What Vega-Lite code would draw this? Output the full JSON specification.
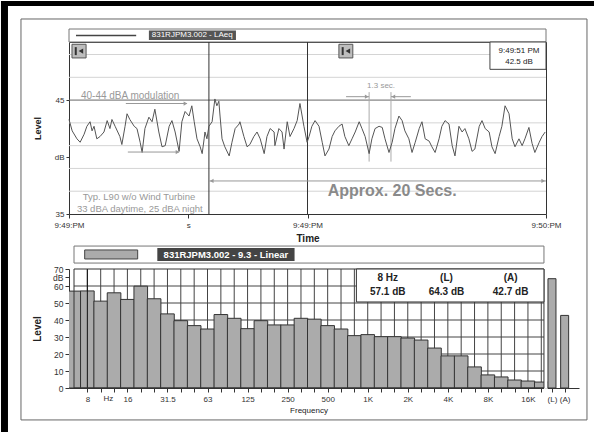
{
  "$schema": "https://vega.github.io/schema/vega-lite/v6.json",
  "background": "white",
  "padding": 0,
  "autosize": {"type": "pad"},
  "bounds": "flush",
  "spacing": 55,
  "config": {
    "font": "Liberation Sans",
    "axis": {"labelFont": "Liberation Sans", "titleFont": "Liberation Sans", "labelColor": "#333", "titleColor": "#222", "tickColor": "#333", "domainColor": "#333", "grid": false}
  },
  "datasets": {
    "ts": [
      {"t":0,"level":43.3},{"t":0.8,"level":42.3},{"t":2.0,"level":41.6},{"t":2.8,"level":41.3},{"t":3.8,"level":42.0},{"t":4.5,"level":42.7},{"t":5.3,"level":43.1},{"t":5.8,"level":42.3},{"t":6.3,"level":42.7},{"t":7.0,"level":41.6},{"t":7.8,"level":41.8},{"t":8.8,"level":42.2},{"t":9.6,"level":43.2},{"t":10.3,"level":42.5},{"t":10.8,"level":43.3},{"t":11.6,"level":42.7},{"t":12.8,"level":41.8},{"t":13.3,"level":41.1},{"t":14.1,"level":42.7},{"t":14.6,"level":43.8},{"t":15.3,"level":43.3},{"t":16.4,"level":42.7},{"t":17.1,"level":42.5},{"t":17.9,"level":41.3},{"t":18.4,"level":40.4},{"t":19.1,"level":42.5},{"t":20.1,"level":43.5},{"t":20.9,"level":43.1},{"t":21.6,"level":44.2},{"t":22.6,"level":42.2},{"t":23.4,"level":40.9},{"t":24.2,"level":41.0},{"t":25.2,"level":42.7},{"t":25.9,"level":43.2},{"t":26.7,"level":42.2},{"t":27.7,"level":40.5},{"t":28.4,"level":43.1},{"t":29.2,"level":44.0},{"t":30.2,"level":43.6},{"t":30.9,"level":44.5},{"t":31.5,"level":43.1},{"t":32.2,"level":41.6},{"t":33.0,"level":40.9},{"t":33.5,"level":40.3},{"t":34.0,"level":41.6},{"t":34.2,"level":42.2},{"t":34.7,"level":41.6},{"t":35.2,"level":42.7},{"t":36.0,"level":43.1},{"t":36.7,"level":45.1},{"t":37.2,"level":44.5},{"t":37.7,"level":44.9},{"t":38.0,"level":43.6},{"t":38.5,"level":41.6},{"t":39.2,"level":40.9},{"t":40.3,"level":40.1},{"t":41.0,"level":41.3},{"t":41.8,"level":42.5},{"t":42.8,"level":42.9},{"t":43.0,"level":43.1},{"t":44.0,"level":41.8},{"t":44.8,"level":40.9},{"t":45.5,"level":41.1},{"t":46.5,"level":41.8},{"t":47.3,"level":42.2},{"t":48.1,"level":41.6},{"t":49.1,"level":40.3},{"t":49.8,"level":41.8},{"t":50.6,"level":42.5},{"t":51.6,"level":42.2},{"t":51.8,"level":41.0},{"t":52.8,"level":42.5},{"t":53.6,"level":42.2},{"t":54.1,"level":40.7},{"t":54.9,"level":43.1},{"t":55.6,"level":41.8},{"t":56.6,"level":42.5},{"t":57.4,"level":43.2},{"t":58.1,"level":44.7},{"t":59.1,"level":42.7},{"t":59.9,"level":41.3},{"t":60.4,"level":41.8},{"t":61.1,"level":42.7},{"t":61.9,"level":43.2},{"t":62.9,"level":42.7},{"t":63.7,"level":41.3},{"t":64.4,"level":40.1},{"t":65.4,"level":40.7},{"t":66.2,"level":41.8},{"t":66.9,"level":42.3},{"t":67.9,"level":42.7},{"t":68.7,"level":42.9},{"t":69.4,"level":41.8},{"t":70.4,"level":41.0},{"t":71.2,"level":41.6},{"t":72.0,"level":42.2},{"t":73.0,"level":43.1},{"t":73.7,"level":42.5},{"t":74.5,"level":41.8},{"t":75.5,"level":40.3},{"t":76.2,"level":41.6},{"t":77.0,"level":42.5},{"t":78.0,"level":42.7},{"t":78.8,"level":42.6},{"t":79.5,"level":41.6},{"t":80.5,"level":40.4},{"t":81.3,"level":41.3},{"t":82.0,"level":42.5},{"t":83.0,"level":43.6},{"t":83.8,"level":43.2},{"t":84.5,"level":42.3},{"t":85.5,"level":41.6},{"t":86.3,"level":40.4},{"t":87.1,"level":41.3},{"t":88.1,"level":42.5},{"t":88.8,"level":43.1},{"t":89.6,"level":41.6},{"t":90.6,"level":41.4},{"t":91.3,"level":40.9},{"t":92.1,"level":40.4},{"t":93.1,"level":41.6},{"t":93.8,"level":42.7},{"t":94.6,"level":43.2},{"t":95.6,"level":42.9},{"t":96.4,"level":41.0},{"t":97.1,"level":40.1},{"t":98.1,"level":42.7},{"t":98.9,"level":42.2},{"t":99.6,"level":42.5},{"t":100.6,"level":41.6},{"t":101.4,"level":40.5},{"t":102.1,"level":40.7},{"t":103.2,"level":42.7},{"t":103.9,"level":43.2},{"t":104.7,"level":42.5},{"t":105.7,"level":42.2},{"t":106.4,"level":40.9},{"t":107.2,"level":40.3},{"t":108.2,"level":41.8},{"t":108.9,"level":42.7},{"t":109.7,"level":44.5},{"t":110.7,"level":43.8},{"t":111.5,"level":41.6},{"t":112.2,"level":40.9},{"t":113.2,"level":41.6},{"t":114.0,"level":41.0},{"t":114.7,"level":41.6},{"t":115.7,"level":42.6},{"t":116.5,"level":41.2},{"t":117.2,"level":40.4},{"t":118.3,"level":41.3},{"t":119.0,"level":41.8},{"t":119.8,"level":42.2}
    ],
    "bands": [
      {"idx":0,"band":"6.3","db":57.0},{"idx":1,"band":"8","db":57.1},{"idx":2,"band":"10","db":51.1},{"idx":3,"band":"12.5","db":56.0},{"idx":4,"band":"16","db":52.1},{"idx":5,"band":"20","db":59.9},{"idx":6,"band":"25","db":52.5},{"idx":7,"band":"31.5","db":43.6},{"idx":8,"band":"40","db":39.6},{"idx":9,"band":"50","db":36.7},{"idx":10,"band":"63","db":34.7},{"idx":11,"band":"80","db":43.2},{"idx":12,"band":"100","db":41.0},{"idx":13,"band":"125","db":34.9},{"idx":14,"band":"160","db":39.6},{"idx":15,"band":"200","db":37.1},{"idx":16,"band":"250","db":37.1},{"idx":17,"band":"315","db":41.0},{"idx":18,"band":"400","db":40.5},{"idx":19,"band":"500","db":36.7},{"idx":20,"band":"630","db":34.7},{"idx":21,"band":"800","db":30.8},{"idx":22,"band":"1K","db":31.4},{"idx":23,"band":"1.25K","db":30.2},{"idx":24,"band":"1.6K","db":30.2},{"idx":25,"band":"2K","db":29.4},{"idx":26,"band":"2.5K","db":28.2},{"idx":27,"band":"3.15K","db":23.5},{"idx":28,"band":"4K","db":18.9},{"idx":29,"band":"5K","db":18.9},{"idx":30,"band":"6.3K","db":12.4},{"idx":31,"band":"8K","db":7.7},{"idx":32,"band":"10K","db":6.5},{"idx":33,"band":"12.5K","db":4.7},{"idx":34,"band":"16K","db":4.1},{"idx":35,"band":"20K","db":3.5}
    ],
    "totals": [
      {"idx":35.8,"band":"(L)","db":64.3},{"idx":36.75,"band":"(A)","db":42.7}
    ]
  },
  "vconcat": [
    {
      "width": 477,
      "height": 172,
      "view": {"stroke": "#333", "strokeWidth": 1},
      "encoding": {
        "x": {"field": "t", "type": "quantitative", "scale": {"domain": [0, 120], "nice": false, "zero": false},
          "axis": {"values": [0, 30, 60, 120], "labelExpr": "datum.value == 0 ? '9:49:PM' : datum.value == 30 ? 's' : datum.value == 60 ? '9:49:PM' : '9:50:PM'", "labelFontSize": 8, "tickSize": 4, "labelPadding": 3, "domain": false, "title": "Time", "titleFontSize": 10, "titleFontWeight": "bold", "titlePadding": 4, "labelFlush": false, "labelOverlap": false}},
        "y": {"field": "level", "type": "quantitative", "scale": {"domain": [35, 50.1], "nice": false, "zero": false},
          "axis": {"values": [35, 40, 45], "labelExpr": "datum.value == 40 ? 'dB' : datum.label", "labelFontSize": 8, "tickSize": 3, "labelPadding": 2, "domain": false, "title": "Level", "titleFontSize": 9, "titleFontWeight": "bold", "titlePadding": 12, "labelFlush": false}}
      },
      "layer": [
        {"data": {"values": [{"t": -17.11, "t2": -15.35, "level": 53.7, "level2": 15.775}, {"t": -17.11, "t2": 132.33, "level": 53.7, "level2": 53.26}]},
          "mark": {"type": "rect", "color": "#000"}, "encoding": {"x2": {"field": "t2"}, "y2": {"field": "level2"}}},
        {"data": {"values": [{"t": -12.08, "t2": 130.31, "level": 52.12, "level2": 16.92}]},
          "mark": {"type": "rect", "fill": "white", "fillOpacity": 0, "stroke": "#666", "strokeWidth": 1}, "encoding": {"x2": {"field": "t2"}, "y2": {"field": "level2"}}},
        {"data": {"values": [{"t": 0, "t2": 120, "level": 50.1, "level2": 51.24}]},
          "mark": {"type": "rect", "fill": "white", "stroke": "#777", "strokeWidth": 1}, "encoding": {"x2": {"field": "t2"}, "y2": {"field": "level2"}}},
        {"data": {"values": [{"t": 1.76, "t2": 16.9, "level": 50.68}]},
          "mark": {"type": "rule", "color": "#444", "strokeWidth": 1.5}, "encoding": {"x2": {"field": "t2"}}},
        {"data": {"values": [{"t": 20.1, "t2": 42.0, "level": 50.28, "level2": 51.12}]},
          "mark": {"type": "rect", "fill": "#555"}, "encoding": {"x2": {"field": "t2"}, "y2": {"field": "level2"}}},
        {"data": {"values": [{"t": 31.0, "level": 50.7, "label": "831RJPM3.002 - LAeq"}]},
          "mark": {"type": "text", "color": "white", "fontSize": 8, "align": "center", "baseline": "middle"}, "encoding": {"text": {"field": "label"}}},
        {"data": {"values": [{"t": 0, "t2": 120, "level": 37}, {"t": 0, "t2": 120, "level": 39}, {"t": 0, "t2": 120, "level": 41}, {"t": 0, "t2": 120, "level": 43}, {"t": 0, "t2": 120, "level": 47}, {"t": 0, "t2": 120, "level": 49}]},
          "mark": {"type": "rule", "color": "#d4d4d4", "strokeWidth": 1}, "encoding": {"x2": {"field": "t2"}}},
        {"data": {"values": [{"t": 0, "t2": 120, "level": 45}]},
          "mark": {"type": "rule", "color": "#666", "strokeWidth": 1}, "encoding": {"x2": {"field": "t2"}}},
        {"data": {"values": [{"t": 35.2, "level": 35, "level2": 50.1}, {"t": 60, "level": 35, "level2": 50.1}]},
          "mark": {"type": "rule", "color": "#333", "strokeWidth": 1}, "encoding": {"y2": {"field": "level2"}}},
        {"data": {"values": [{"t": 75.5, "level": 39.6, "level2": 45.7}, {"t": 81.0, "level": 39.6, "level2": 45.7}]},
          "mark": {"type": "rule", "color": "#aaa", "strokeWidth": 1}, "encoding": {"y2": {"field": "level2"}}},
        {"data": {"name": "ts"}, "mark": {"type": "line", "color": "#555", "strokeWidth": 1}},
        {"data": {"values": [{"t": 14.3, "t2": 29.7, "level": 44.7}, {"t": 14.8, "t2": 27.7, "level": 40.44}, {"t": 69.7, "t2": 75.5, "level": 45.3}, {"t": 81.0, "t2": 86.0, "level": 45.3}, {"t": 35.2, "t2": 120, "level": 37.9}]},
          "mark": {"type": "rule", "color": "#999", "strokeWidth": 1}, "encoding": {"x2": {"field": "t2"}}},
        {"data": {"values": [{"t": 29.3, "level": 44.7}, {"t": 27.3, "level": 40.44}, {"t": 74.9, "level": 45.3}, {"t": 119.3, "level": 37.9}]},
          "mark": {"type": "point", "shape": "triangle-right", "filled": true, "color": "#999", "size": 18, "opacity": 1}},
        {"data": {"values": [{"t": 81.6, "level": 45.3}, {"t": 35.9, "level": 37.9}]},
          "mark": {"type": "point", "shape": "triangle-left", "filled": true, "color": "#999", "size": 18, "opacity": 1}},
        {"data": {"values": [{"t": 3.0, "level": 45.4, "label": "40-44 dBA modulation"}]},
          "mark": {"type": "text", "color": "#999", "fontSize": 10, "align": "left", "baseline": "middle"}, "encoding": {"text": {"field": "label"}}},
        {"data": {"values": [{"t": 17.6, "level": 36.5, "label": "Typ. L90 w/o Wind Turbine"}, {"t": 17.8, "level": 35.4, "label": "33 dBA daytime, 25 dBA night"}]},
          "mark": {"type": "text", "color": "#999", "fontSize": 9.5, "align": "center", "baseline": "middle"}, "encoding": {"text": {"field": "label"}}},
        {"data": {"values": [{"t": 78.5, "level": 46.2, "label": "1.3 sec."}]},
          "mark": {"type": "text", "color": "#999", "fontSize": 8, "align": "center", "baseline": "middle"}, "encoding": {"text": {"field": "label"}}},
        {"data": {"values": [{"t": 81.3, "level": 37.0, "label": "Approx. 20 Secs."}]},
          "mark": {"type": "text", "color": "#8a8a8a", "fontSize": 16, "fontWeight": "bold", "align": "center", "baseline": "middle"}, "encoding": {"text": {"field": "label"}}},
        {"data": {"values": [{"t": 105.9, "t2": 120, "level": 47.7, "level2": 50.1}]},
          "mark": {"type": "rect", "fill": "white", "stroke": "#444", "strokeWidth": 1}, "encoding": {"x2": {"field": "t2"}, "y2": {"field": "level2"}}},
        {"data": {"values": [{"t": 113.2, "level": 49.35, "label": "9:49:51 PM"}, {"t": 113.2, "level": 48.35, "label": "42.5 dB"}]},
          "mark": {"type": "text", "color": "#222", "fontSize": 8, "align": "center", "baseline": "middle"}, "encoding": {"text": {"field": "label"}}},
        {"data": {"values": [{"t": 0.75, "t2": 4.3, "level": 48.7, "level2": 49.9}, {"t": 67.9, "t2": 71.4, "level": 48.7, "level2": 49.9}]},
          "mark": {"type": "rect", "fill": "#bdbdbd", "stroke": "#555", "strokeWidth": 1}, "encoding": {"x2": {"field": "t2"}, "y2": {"field": "level2"}}},
        {"data": {"values": [{"t": 1.7, "level": 48.95, "level2": 49.65}, {"t": 68.85, "level": 48.95, "level2": 49.65}]},
          "mark": {"type": "rule", "color": "#333", "strokeWidth": 2}, "encoding": {"y2": {"field": "level2"}}},
        {"data": {"values": [{"t": 3.0, "level": 49.3}, {"t": 70.15, "level": 49.3}]},
          "mark": {"type": "point", "shape": "triangle-left", "filled": true, "color": "#333", "size": 28, "opacity": 1}}
      ]
    },
    {
      "width": 510,
      "height": 119,
      "view": {"stroke": null},
      "encoding": {
        "x": {"field": "idx", "type": "quantitative", "scale": {"domain": [0, 37.45], "nice": false, "zero": false},
          "axis": {"values": [1,2,3,4,5,6,7,8,9,10,11,12,13,14,15,16,17,18,19,20,21,22,23,24,25,26,27,28,29,30,31,32,33,34,35,35.8,36.75],
            "labelExpr": "datum.value == 35.8 ? '(L)' : datum.value == 36.75 ? '(A)' : (['','8','','','16','','','31.5','','','63','','','125','','','250','','','500','','','1K','','','2K','','','4K','','','8K','','','16K'][datum.value] || '')",
            "labelFontSize": 8, "tickSize": 4, "labelPadding": 3, "domain": true, "title": "Frequency", "titleFontSize": 8, "titleFontWeight": "normal", "titleX": 239.5, "titlePadding": 3, "labelFlush": false, "labelOverlap": false}},
        "y": {"field": "db", "type": "quantitative", "scale": {"domain": [0, 70], "nice": false},
          "axis": {"values": [0, 10, 20, 30, 40, 50, 60, 65, 70], "labelExpr": "datum.value == 65 ? 'dB' : datum.label", "labelFontSize": 8.5, "tickSize": 4, "labelPadding": 2, "domain": true, "title": "Level", "titleFontSize": 10, "titleFontWeight": "bold", "titlePadding": 10, "labelFlush": false, "labelOverlap": false}}
      },
      "layer": [
        {"data": {"values": [{"idx": 0, "idx2": 35.2, "db": 0, "db2": 70}]},
          "mark": {"type": "rect", "fill": "white"}, "encoding": {"x2": {"field": "idx2"}, "y2": {"field": "db2"}}},
        {"data": {"values": [{"idx": 0, "idx2": 35.2, "db": 10}, {"idx": 0, "idx2": 35.2, "db": 20}, {"idx": 0, "idx2": 35.2, "db": 30}, {"idx": 0, "idx2": 35.2, "db": 40}, {"idx": 0, "idx2": 35.2, "db": 50}, {"idx": 0, "idx2": 35.2, "db": 60}]},
          "mark": {"type": "rule", "color": "#444", "strokeWidth": 1}, "encoding": {"x2": {"field": "idx2"}}},
        {"data": {"name": "bands"}, "transform": [{"filter": "datum.idx >= 1"}],
          "mark": {"type": "rule", "color": "#444", "strokeWidth": 1}, "encoding": {"y": {"datum": 0}, "y2": {"datum": 70}}},
        {"data": {"name": "bands"}, "mark": {"type": "bar", "width": 13.62, "fill": "#ababab", "stroke": "#333", "strokeWidth": 1, "clip": true}},
        {"data": {"values": [{"idx": 35.2, "idx2": 35.48, "db": -0.5, "db2": 70}]},
          "mark": {"type": "rect", "fill": "white"}, "encoding": {"x2": {"field": "idx2"}, "y2": {"field": "db2"}}},
        {"data": {"values": [{"idx": 1, "db": 0, "db2": 70}]},
          "mark": {"type": "rule", "color": "#111", "strokeWidth": 1}, "encoding": {"y2": {"field": "db2"}}},
        {"data": {"values": [{"idx": 0, "idx2": 35.2, "db": 0, "db2": 70}]},
          "mark": {"type": "rect", "fill": "white", "fillOpacity": 0, "stroke": "#333", "strokeWidth": 1}, "encoding": {"x2": {"field": "idx2"}, "y2": {"field": "db2"}}},
        {"data": {"name": "totals"}, "mark": {"type": "bar", "width": 8, "fill": "#ababab", "stroke": "#333", "strokeWidth": 1}},
        {"data": {"values": [{"idx": 21.15, "idx2": 35.2, "db": 50.6, "db2": 70}]},
          "mark": {"type": "rect", "fill": "white", "stroke": "#333", "strokeWidth": 1}, "encoding": {"x2": {"field": "idx2"}, "y2": {"field": "db2"}}},
        {"data": {"values": [{"idx": 23.5, "db": 64.8, "label": "8 Hz"}, {"idx": 23.5, "db": 56.6, "label": "57.1 dB"}, {"idx": 27.9, "db": 64.8, "label": "(L)"}, {"idx": 27.9, "db": 56.6, "label": "64.3 dB"}, {"idx": 32.7, "db": 64.8, "label": "(A)"}, {"idx": 32.7, "db": 56.6, "label": "42.7 dB"}]},
          "mark": {"type": "text", "color": "#222", "fontSize": 10, "fontWeight": "bold", "align": "center", "baseline": "middle"}, "encoding": {"text": {"field": "label"}}},
        {"data": {"values": [{"idx": 0, "idx2": 35.2, "db": 73.5, "db2": 83.5}]},
          "mark": {"type": "rect", "fill": "white", "stroke": "#777", "strokeWidth": 1}, "encoding": {"x2": {"field": "idx2"}, "y2": {"field": "db2"}}},
        {"data": {"values": [{"idx": 0.8, "idx2": 4.77, "db": 75.9, "db2": 81.2}]},
          "mark": {"type": "rect", "fill": "#ababab", "stroke": "#444", "strokeWidth": 1}, "encoding": {"x2": {"field": "idx2"}, "y2": {"field": "db2"}}},
        {"data": {"values": [{"idx": 6.24, "idx2": 16.52, "db": 74.7, "db2": 82.4}]},
          "mark": {"type": "rect", "fill": "#444"}, "encoding": {"x2": {"field": "idx2"}, "y2": {"field": "db2"}}},
        {"data": {"values": [{"idx": 11.38, "db": 78.5, "label": "831RJPM3.002 - 9.3 - Linear"}]},
          "mark": {"type": "text", "color": "white", "fontSize": 9.5, "fontWeight": "bold", "align": "center", "baseline": "middle"}, "encoding": {"text": {"field": "label"}}},
        {"data": {"values": [{"idx": 2.57, "db": -6.5, "label": "Hz"}]},
          "mark": {"type": "text", "color": "#333", "fontSize": 8, "align": "center", "baseline": "middle"}, "encoding": {"text": {"field": "label"}}}
      ]
    }
  ]
}
